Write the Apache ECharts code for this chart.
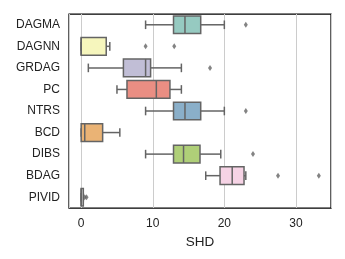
<!DOCTYPE html>
<html>
<head>
<meta charset="utf-8">
<script src="https://cdn.jsdelivr.net/npm/echarts@6/dist/echarts.min.js"></script>
<style>
html,body{margin:0;padding:0;background:#fff;}
#chart{width:345px;height:259px;}
</style>
</head>
<body>
<div id="chart"></div>
<script>
const categories = ['DAGMA','DAGNN','GRDAG','PC','NTRS','BCD','DIBS','BDAG','PIVID'];
const mins    = [9,    0,   1,   5,    9,    0,   9,    17.4,  0];
const q1s     = [12.9, 0,   5.9, 6.4,  12.9, 0,   12.9, 19.4,  0];
const medians = [14.5, 0,   9,   10.5, 14.5, 0.5, 14.3, 21.1,  0];
const q3s     = [16.7, 3.5, 9.7, 12.4, 16.7, 3,   16.6, 22.75, 0.3];
const maxs    = [20,   4,   14,  14,   20,   5.4, 19.5, 23,    0.3];
const outlierCats   = ['DAGMA','DAGNN','DAGNN','GRDAG','NTRS','DIBS','BDAG','BDAG','PIVID','PIVID'];
const outlierValues = [23,     9,      13,     18,     23,    24,    27.5,  33.2,  0.5,    0.75];
const xTicks = [0, 10, 20, 30];

const boxColors = ['#96cac1','#f6f6bd','#c1bed6','#ea8e83','#8aafc9','#eab375','#afcf78','#f6d3e5','#d9d9d9'];
const lineColor = '#646464';

const boxData = categories.map((c, i) => [i, mins[i], q1s[i], medians[i], q3s[i], maxs[i]]);
const outlierData = outlierCats.map((c, i) => [outlierValues[i], categories.indexOf(c)]);

function renderBox(params, api) {
  const cat = api.value(0);
  const pMin = api.coord([api.value(1), cat]);
  const pQ1 = api.coord([api.value(2), cat]);
  const pMed = api.coord([api.value(3), cat]);
  const pQ3 = api.coord([api.value(4), cat]);
  const pMax = api.coord([api.value(5), cat]);
  const band = api.size([0, 1])[1];
  const hb = band * 0.41, hc = band * 0.2;
  const y = pMed[1];
  const st = {stroke: lineColor, lineWidth: 1.5, fill: null};
  return {
    type: 'group',
    children: [
      {type: 'line', shape: {x1: pMin[0], y1: y, x2: pQ1[0], y2: y}, style: st},
      {type: 'line', shape: {x1: pQ3[0], y1: y, x2: pMax[0], y2: y}, style: st},
      {type: 'line', shape: {x1: pMin[0], y1: y - hc, x2: pMin[0], y2: y + hc}, style: st},
      {type: 'line', shape: {x1: pMax[0], y1: y - hc, x2: pMax[0], y2: y + hc}, style: st},
      {type: 'rect', shape: {x: pQ1[0], y: y - hb, width: pQ3[0] - pQ1[0], height: 2 * hb},
        style: {fill: boxColors[cat], stroke: lineColor, lineWidth: 1.5}},
      {type: 'line', shape: {x1: pMed[0], y1: y - hb, x2: pMed[0], y2: y + hb}, style: st}
    ]
  };
}

const chart = echarts.init(document.getElementById('chart'), null, {renderer: 'canvas'});
chart.setOption({
  animation: false,
  backgroundColor: '#fff',
  textStyle: {fontFamily: 'Liberation Sans, Arial, sans-serif'},
  grid: {left: 69, right: 14, top: 14, bottom: 51, show: true, borderColor: '#000', borderWidth: 1.25, backgroundColor: 'transparent'},
  xAxis: {
    type: 'value', min: -1.7, max: 34.9, minInterval: 10, maxInterval: 10,
    axisLine: {show: false}, axisTick: {show: false},
    splitLine: {show: true, lineStyle: {color: '#cccccc', width: 1}},
    axisLabel: {color: '#222', fontSize: 12, margin: 10, showMinLabel: false, showMaxLabel: false,
      formatter: v => xTicks.indexOf(Math.round(v * 1000) / 1000) >= 0 ? String(Math.round(v)) : ''},
    name: 'SHD', nameLocation: 'middle', nameGap: 22,
    nameTextStyle: {color: '#222', fontSize: 13.5}
  },
  yAxis: {
    type: 'category', data: categories, inverse: true,
    axisLine: {show: false}, axisTick: {show: false}, splitLine: {show: false},
    axisLabel: {color: '#222', fontSize: 12, margin: 9}
  },
  series: [
    {type: 'custom', renderItem: renderBox, data: boxData, encode: {x: [1,2,3,4,5], y: 0}, z: 3},
    {type: 'scatter', data: outlierData, symbol: 'diamond', symbolSize: [4, 6],
      itemStyle: {color: lineColor}, z: 4}
  ]
});
</script>
</body>
</html>
